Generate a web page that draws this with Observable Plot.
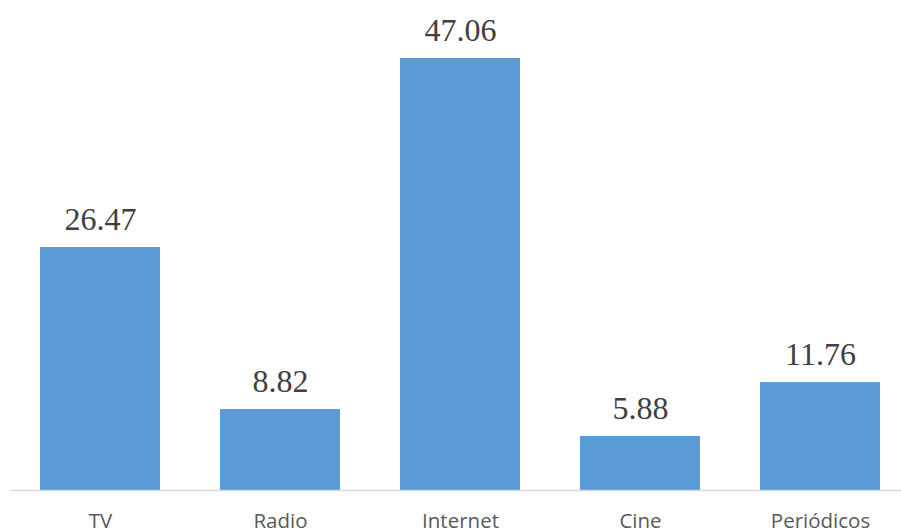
<!DOCTYPE html>
<html>
<head>
<meta charset="utf-8">
<script src="https://cdn.jsdelivr.net/npm/d3@7"></script>
<script src="https://cdn.jsdelivr.net/npm/@observablehq/plot@0.6"></script>
<style>
  html, body { margin: 0; padding: 0; background: #fff; }
  svg { display: block; }
</style>
</head>
<body>
<div id="chart"></div>
<script>
const categories = ["TV", "Radio", "Internet", "Cine", "Periódicos"];
const values = [26.47, 8.82, 47.06, 5.88, 11.76];
const valueLabels = ["26.47", "8.82", "47.06", "5.88", "11.76"];

const data = categories.map((c, i) => ({category: c, value: values[i], label: valueLabels[i]}));

const chart = Plot.plot({
  width: 901,
  height: 532,
  marginTop: 0,
  marginBottom: 42,
  marginLeft: 10,
  marginRight: 0,
  style: {background: "#fff", overflow: "visible"},
  x: {domain: categories, range: [10, 910], paddingInner: 1/3, paddingOuter: 1/6, label: null},
  y: {domain: [0, 47.06], range: [490, 58], axis: null},
  marks: [
    Plot.barY(data, {x: "category", y: "value", fill: "#5B9BD5"}),
    Plot.ruleY([0], {stroke: "#d9d9d9", strokeWidth: 1.5}),
    Plot.text(data, {x: "category", y: "value", text: "label", dy: -18, lineAnchor: "bottom",
      fontFamily: "Liberation Serif", fontSize: 32, fill: "#404040"}),
    Plot.axisX({tickSize: 0, tickPadding: 0, dy: 23, fontFamily: "Open Sans", fontSize: 20.5, color: "#595959", label: null})
  ]
});
document.getElementById("chart").appendChild(chart);
</script>
</body>
</html>
